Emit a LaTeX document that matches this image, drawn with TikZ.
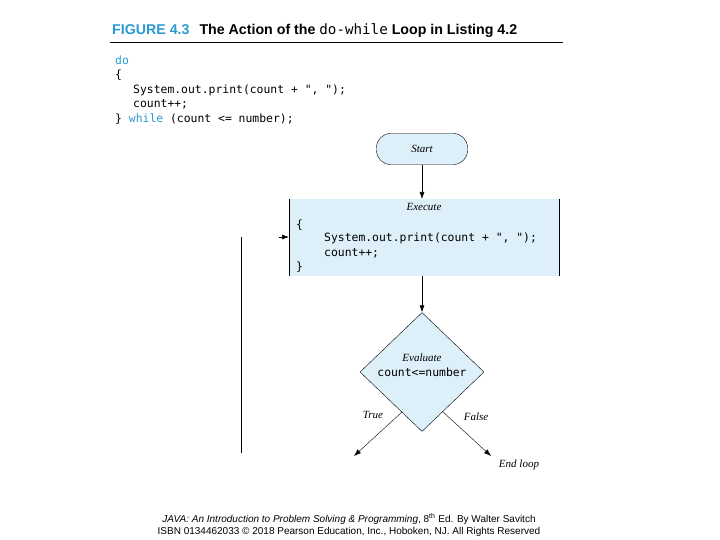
\documentclass[tikz,border=0pt]{standalone}
\usepackage{fontspec}
\setmainfont{Liberation Serif}
\setsansfont{Liberation Sans}
\setmonofont{DejaVu Sans Mono}
\usetikzlibrary{shapes.geometric,arrows.meta}
\definecolor{lb}{HTML}{DDEFF8}
\definecolor{tb}{HTML}{2C9AD0}
\begin{document}
\begin{tikzpicture}[x=1pt,y=-1pt,
  code/.style={anchor=west,inner sep=0pt,font=\ttfamily\fontsize{11.4}{13}\selectfont},
  lab/.style={inner sep=0pt,font=\itshape\fontsize{11}{13}\selectfont},
  arr/.style={-{Latex[length=7pt,width=5pt]},line width=0.6pt}]
\useasboundingbox (0,0) rectangle (720,540);
\node[anchor=west,inner sep=0pt,font=\sffamily\bfseries\fontsize{14.2}{16}\selectfont] (title) at (112,31) {\textcolor{tb}{FIGURE 4.3}\hspace{10pt}The Action of the {\ttfamily\mdseries do-while} Loop in Listing 4.2};
\draw[line width=0.7pt] (110,42) -- (563,42);
\node[code,text=tb] (c1) at (115,60) {do};
\node[code] (c2) at (115,75) {\{};
\node[code] (c3) at (133,90) {System.out.print(count + ", ");};
\node[code] (c4) at (133,104) {count++;};
\node[code] (c5) at (115,119) {\} \textcolor{tb}{while} (count <= number);};
\node[draw,fill=lb,rounded corners=14pt,minimum width=91pt,minimum height=31pt,lab,line width=0.4pt] (start) at (422,149) {Start};
\fill[lb] (289,199) rectangle (559,276);
\draw[line width=0.7pt] (289,199) -- (289,276) (559,199) -- (559,276);
\coordinate (exN) at (422,199);
\coordinate (exS) at (422,276);
\coordinate (exW) at (289,237);
\node[lab] (exl) at (424,207) {Execute};
\node[code] (e1) at (296,225) {\{};
\node[code] (e2) at (324,238) {System.out.print(count + ", ");};
\node[code] (e3) at (324,253) {count++;};
\node[code] (e4) at (296,267) {\}};
\node[diamond,draw,fill=lb,minimum width=124pt,minimum height=119pt,inner sep=0pt,line width=0.4pt,aspect=1.04] (ev) at (422,372) {};
\node[lab] (evl) at (422,358) {Evaluate};
\node[code,anchor=center] (evc) at (422,372) {count<=number};
\draw[arr] (start) -- (exN);
\draw[arr] (exS) -- (ev.north);
\coordinate (t1) at (402,412);
\coordinate (t2) at (354,456);
\coordinate (f1) at (443,412);
\coordinate (f2) at (491,456);
\draw[arr,line width=0.4pt] (t1) -- (t2);
\draw[arr,line width=0.4pt] (f1) -- (f2);
\node[lab] (tr) at (373,415) {True};
\node[lab] (fa) at (476,417) {False};
\node[lab] (end) at (519,465) {End loop};
\coordinate (l1) at (241,237);
\coordinate (l2) at (241,453);
\draw[line width=0.7pt] (l1) -- (l2);
\coordinate (a0) at (279,237);
\draw[arr] (a0) -- (exW);
\node[inner sep=0pt,font=\sffamily\fontsize{10}{12}\selectfont,align=center] (foot) at (349,525) {\textit{JAVA: An Introduction to Problem Solving \& Programming}, 8\textsuperscript{th} Ed. By Walter Savitch\\[0pt] ISBN 0134462033 © 2018 Pearson Education, Inc., Hoboken, NJ. All Rights Reserved};
\end{tikzpicture}
\end{document}
